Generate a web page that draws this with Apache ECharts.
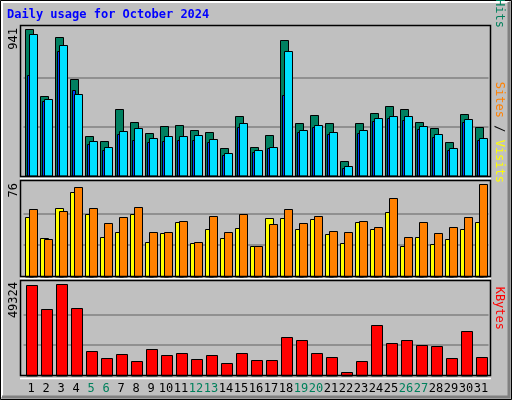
<!DOCTYPE html>
<html><head><meta charset="utf-8">
<script src="https://cdn.jsdelivr.net/npm/echarts@6/dist/echarts.min.js"></script>
<style>html,body{margin:0;padding:0;background:#c0c0c0}#c{width:512px;height:400px}</style>
</head><body><div id="c"></div>
<script>
const days = Array.from({length:31},(_,i)=>String(i+1));
const weekendDays = [5,6,12,13,19,20,26,27];
const hits  = [941,512,890,621,256,224,429,346,275,320,326,294,282,179,384,186,262,870,339,390,339,96,339,403,448,429,346,307,218,397,314];
const files = [646,480,800,550,205,166,269,230,218,224,230,230,218,134,314,154,179,518,282,314,269,51,275,352,371,358,301,250,166,346,230];
const pages = [909,493,838,525,224,186,288,307,243,256,256,262,237,147,339,166,186,800,294,326,282,64,294,371,384,384,320,269,179,365,243];
const visits= [48,31,55,68,50,32,36,50,28,35,44,27,38,31,39,25,47,47,38,46,34,27,44,38,52,25,32,26,30,38,44];
const sites = [54,30,53,72,55,43,48,56,36,36,45,28,49,36,50,25,42,54,43,49,37,36,45,40,63,32,44,35,40,48,74];
const kbytes= [48800,35900,49324,36400,13300,9500,11700,7900,14400,11100,12200,9000,11100,6800,12200,8400,8400,20800,19200,12200,10000,2000,7900,27300,17600,19200,16500,16000,9500,24000,10000];
const maxHits = 941, maxSites = 76, maxKB = 49324;

const chart = echarts.init(document.getElementById('c'));
function bar(grid, data, color, x0, w, z){
  return {type:'custom', xAxisIndex:grid, yAxisIndex:grid, z:z,
    data: data.map((v,i)=>[i,v]),
    renderItem:(p,api)=>{
      const t = api.coord([api.value(0), api.value(1)]);
      const b = api.coord([api.value(0), 0]);
      const cx = Math.round(t[0]);
      const y = Math.round(t[1])+0.5;
      return {type:'rect', shape:{x:cx+x0+0.5, y:y, width:w, height:Math.round(b[1])-y},
        style:{fill:color, stroke:'#000', lineWidth:1}};
    }};
}
function gl(grid, vals){
  return {type:'line', xAxisIndex:grid, yAxisIndex:grid, data:[], z:1,
    markLine:{silent:true, symbol:'none', label:{show:false}, lineStyle:{color:'#808080', type:'solid', width:1.5},
      data: vals.map(v=>({yAxis:v}))}};
}
const mono = 'DejaVu Sans Mono';
const grids = [{left:23.5,width:465,top:25,height:151},{left:23.5,width:465,top:180,height:96.7},{left:23.5,width:465,top:280,height:95.7}];
const xAxes = grids.map((g,i)=>({gridIndex:i, type:'category', data:days, boundaryGap:true,
  axisLine:{show:false}, axisTick:{show:false}, splitLine:{show:false},
  axisLabel: i<2 ? {show:false} : {show:true, interval:0, margin:7, fontFamily:mono, fontSize:12,
    formatter:(v)=> weekendDays.includes(+v) ? '{w|'+v+'}' : '{n|'+v+'}',
    rich:{w:{color:'#00805c',fontFamily:mono,fontSize:12}, n:{color:'#000',fontFamily:mono,fontSize:12}}}}));
const maxes=[maxHits*151/147, maxSites*96.7/94.7, maxKB*95.7/91.7];
const yAxes = grids.map((g,i)=>({gridIndex:i, type:'value', min:0, max:maxes[i], show:false}));
function vtext(x,y,rot,align,rich,txt){
  return {type:'text', x:x, y:y, rotation:rot, style:{text:txt, align:align, verticalAlign:'middle', font:'12px '+mono, rich:rich}};
}
const sl = {color:'#404040', font:'12px '+mono};
chart.setOption({
  animation:false,
  grid:grids, xAxis:xAxes, yAxis:yAxes,
  graphic:[
    {type:'rect', shape:{x:0.5,y:0.5,width:511,height:399}, style:{fill:'#c0c0c0', stroke:'#000'}, z:-10},
    {type:'polyline', shape:{points:[[2,397],[2,2],[509,2]]}, style:{stroke:'#fff', lineWidth:2, fill:null}, z:-9},
    {type:'polyline', shape:{points:[[2,397],[509,397],[509,2]]}, style:{stroke:'#808080', lineWidth:3, fill:null}, z:-9},
    {type:'text', x:7, y:15, style:{text:'Daily usage for October 2024', font:'bold 12px '+mono, fill:'#0000ff', verticalAlign:'middle'}},
    {type:'rect', shape:{x:20.5,y:25.5,width:470,height:151}, style:{fill:null, stroke:'#000', lineWidth:1.5}, z:100},
    {type:'rect', shape:{x:20.5,y:180.5,width:470,height:96}, style:{fill:null, stroke:'#000', lineWidth:1.5}, z:100},
    {type:'rect', shape:{x:20.5,y:280.5,width:470,height:95}, style:{fill:null, stroke:'#000', lineWidth:1.5}, z:100},
    {type:'line', shape:{x1:20,y1:378.5,x2:491,y2:378.5}, style:{stroke:'#fff', lineWidth:1.5}},
    {type:'line', shape:{x1:20,y1:178.5,x2:491,y2:178.5}, style:{stroke:'#fff', lineWidth:1.5}},
    {type:'line', shape:{x1:20,y1:278.5,x2:491,y2:278.5}, style:{stroke:'#fff', lineWidth:1.5}},
    vtext(14,28,Math.PI/2,'right',null,String(maxHits)),
    vtext(14,183,Math.PI/2,'right',null,String(maxSites)),
    vtext(14,282,Math.PI/2,'right',null,String(maxKB)),
    {type:'text', x:499, y:28, rotation:-Math.PI/2, style:{text:'{p|Pages}{s| / }{f|Files}{s| / }{h|Hits}', align:'right', verticalAlign:'middle', font:'12px '+mono,
      rich:{p:{fill:'#00e0ff',font:'12px '+mono}, s:sl, f:{fill:'#0040ff',font:'12px '+mono}, h:{fill:'#00805c',font:'12px '+mono}}}},
    {type:'text', x:499, y:183, rotation:-Math.PI/2, style:{text:'{o|Sites}{s| / }{y|Visits}', align:'right', verticalAlign:'middle', font:'12px '+mono,
      rich:{o:{fill:'#ff8000',font:'12px '+mono}, s:sl, y:{fill:'#ffff00',font:'12px '+mono}}}},
    {type:'text', x:499, y:330, rotation:-Math.PI/2, style:{text:'KBytes', align:'right', verticalAlign:'middle', font:'12px '+mono, fill:'#ff0000'}}
  ],
  series:[
    gl(0,[maxHits/3, maxHits*2/3]), gl(1,[maxSites/3, maxSites*2/3]), gl(2,[maxKB/3, maxKB*2/3]),
    bar(0,hits,'#008060',-6,8,5), bar(0,files,'#0040ff',-4,3,6), bar(0,pages,'#00e0ff',-2,8,7),
    bar(1,visits,'#ffff00',-6,8,5), bar(1,sites,'#ff8000',-2,8,6),
    bar(2,kbytes,'#ff0000',-5,11,5)
  ]
});
</script></body></html>
